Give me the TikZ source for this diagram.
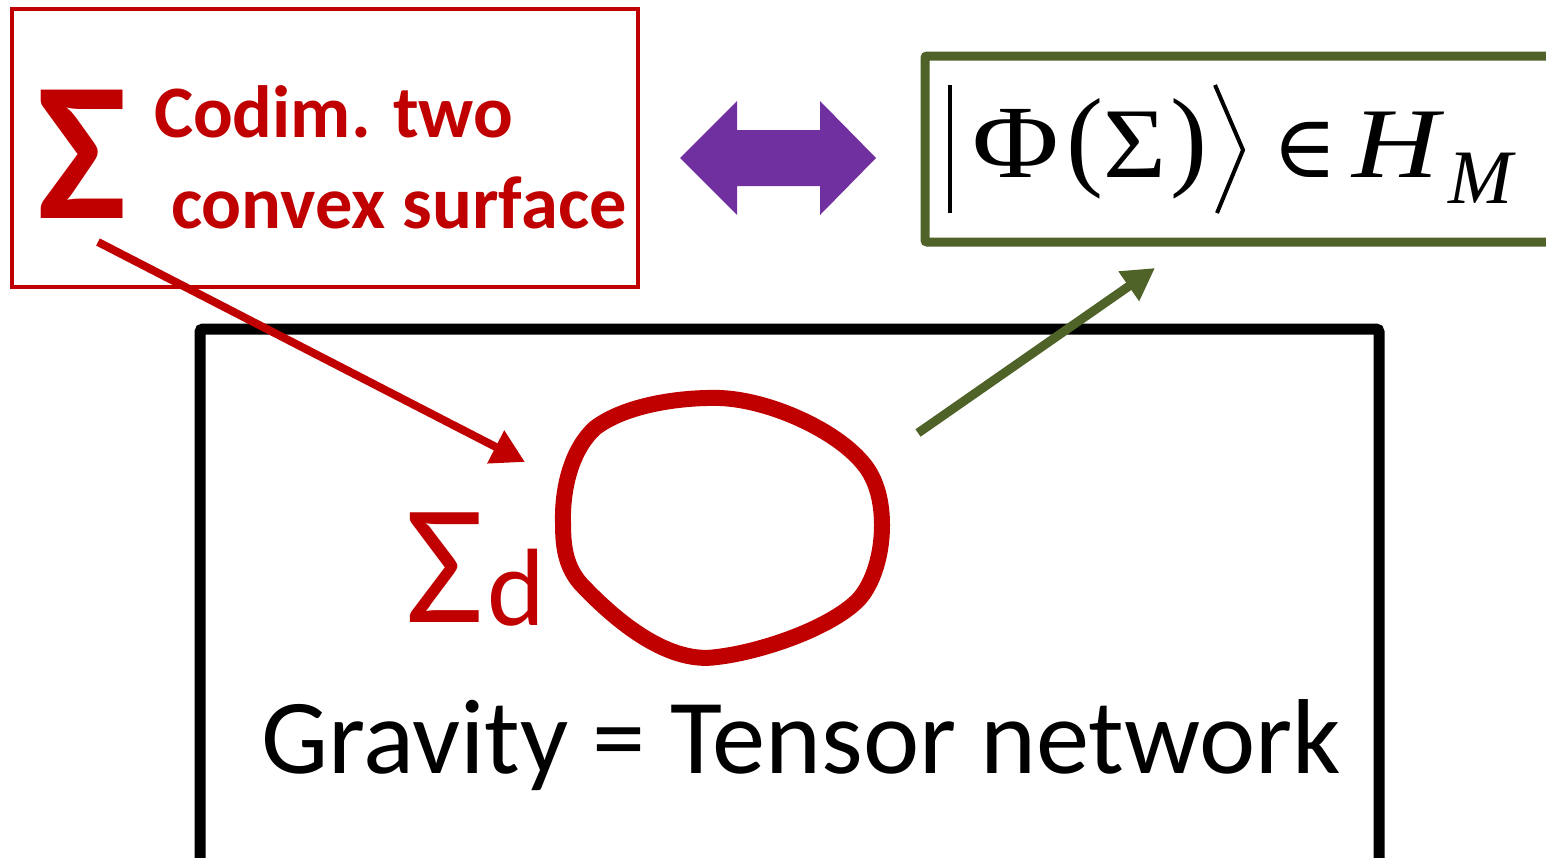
\documentclass[tikz,border=0pt]{standalone}
\usepackage{fontspec}
\setmainfont{Liberation Serif}
\newfontfamily\calfont{Carlito}
\newfontfamily\dvsfont{DejaVu Serif}
\usetikzlibrary{arrows.meta}
\definecolor{myred}{HTML}{C00000}
\definecolor{mypurple}{HTML}{7030A0}
\definecolor{mygreen}{HTML}{4F6228}
\tikzset{
  redbox/.style={draw=myred, line width=4.5pt},
  greenbox/.style={draw=mygreen, line width=9pt, rounded corners=2pt},
  blackbox/.style={draw=black, line width=11pt, rounded corners=3pt},
  lbl/.style={anchor=base west, inner sep=0pt, outer sep=0pt},
  redarrow/.style={draw=myred, line width=8pt, -{Triangle[length=33pt,width=35pt]}},
  greenarrow/.style={draw=mygreen, line width=9pt, -{Triangle[length=32pt,width=34pt]}},
}
\begin{document}
\begin{tikzpicture}[x=1pt,y=-1pt]
\clip (0,0) rectangle (1546,857);
\useasboundingbox (0,0) rectangle (1546,857);
\fill[white] (0,0) rectangle (1546,857);
% boxes
\draw[redbox] (12,9) rectangle (638,287);
\draw[greenbox] (925,56) rectangle (1570,242);
\draw[blackbox] (200,329) rectangle (1379,880);
% top-left texts
\node[lbl, text=myred, xscale=0.96, font=\calfont\bfseries\fontsize{198}{198}\selectfont] (sig) at (37,218) {Σ};
\node[lbl, text=myred, font=\calfont\bfseries\fontsize{74}{74}\selectfont] (codim) at (154,137) {Codim. two};
\node[lbl, text=myred, font=\calfont\bfseries\fontsize{74.5}{74.5}\selectfont] (convex) at (171,228) {convex surface};
% purple double arrow
\fill[mypurple] (680,158) -- (737,101) -- (737,130) -- (820,130) -- (820,101) -- (876,158)
  -- (820,215) -- (820,186) -- (737,186) -- (737,215) -- cycle;
% ket
\draw[line width=4.5pt] (950,85) -- (950,213);
\draw[line width=4pt] (1215,85) -- (1243,150) -- (1217,213);
\node[lbl, xscale=1.14, font=\fontsize{104}{104}\selectfont] (phi) at (972,177) {Φ};
\node[lbl, font=\fontsize{111}{111}\selectfont] (lp) at (1066,175) {(};
\node[lbl, xscale=1.08, font=\fontsize{100}{100}\selectfont] (sigma) at (1103,177) {Σ};
\node[lbl, font=\fontsize{111}{111}\selectfont] (rp) at (1170,175) {)};
\node[lbl, font=\dvsfont\fontsize{88}{88}\selectfont] (in) at (1272,177) {∈};
\node[lbl, xscale=1.2, font=\itshape\fontsize{100}{100}\selectfont] (H) at (1352,177) {H};
\node[lbl, font=\itshape\fontsize{77}{77}\selectfont] (M) at (1448,203) {M};
% closed curve
\draw[myred, line width=16pt]
  (563,523) .. controls (562,485) and (573,448) .. (595,428)
            .. controls (625,405) and (680,397) .. (720,398)
            .. controls (770,400) and (835,430) .. (862,462)
            .. controls (878,480) and (882,505) .. (882,525)
            .. controls (882,560) and (870,590) .. (855,603)
            .. controls (825,630) and (760,652) .. (717,657)
            .. controls (665,665) and (610,615) .. (580,583)
            .. controls (565,565) and (563,545) .. cycle;
\node[lbl, text=myred, font=\calfont\fontsize{171}{171}\selectfont] (sigd) at (405,622) {Σ};
\node[lbl, text=myred, font=\calfont\fontsize{110}{110}\selectfont] (d) at (487,625) {d};
% arrows
\coordinate (rs) at (98,242);
\coordinate (re) at (525,462);
\draw[redarrow] (rs) -- (re);
\coordinate (gs) at (918,433);
\coordinate (ge) at (1155,268);
\draw[greenarrow] (gs) -- (ge);
% bottom text
\node[lbl, font=\calfont\fontsize{106.5}{106.5}\selectfont] (grav) at (261,773) {Gravity = Tensor network};
\end{tikzpicture}
\end{document}
